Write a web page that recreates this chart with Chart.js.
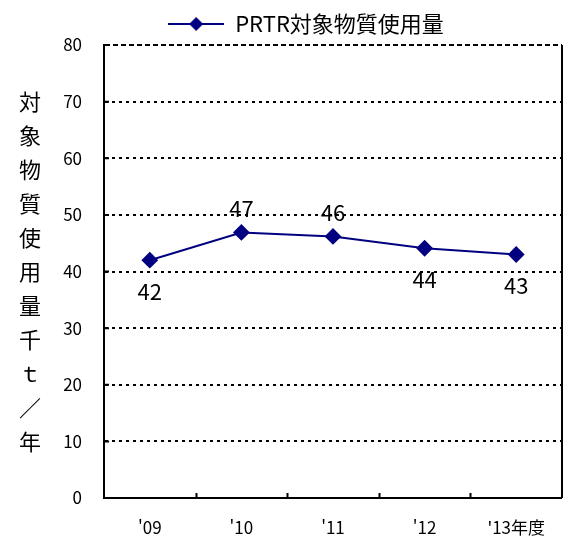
<!DOCTYPE html>
<html lang="ja">
<head>
<meta charset="utf-8">
<script src="https://cdn.jsdelivr.net/npm/chart.js@4.4.0/dist/chart.umd.min.js"></script>
<style>
  html, body { margin: 0; padding: 0; background: #fff; }
  #wrap { width: 565px; height: 539px; position: relative; }
</style>
</head>
<body>
<div id="wrap"><canvas id="chart" width="565" height="539"></canvas></div>
<script>
// data
const years = ["'09", "'10", "'11", "'12", "'13年度"];
const usage = [42.0, 46.9, 46.2, 44.1, 43.0];
const usageLabels = ['42', '47', '46', '44', '43'];
const labelSide = ['below', 'above', 'above', 'below', 'below'];
const yTicks = [0, 10, 20, 30, 40, 50, 60, 70, 80];
const seriesName = 'PRTR対象物質使用量';
const yTitle = ['対', '象', '物', '質', '使', '用', '量', '千', 'ｔ', '／', '年'];

const NAVY = '#000080';
const FONT = '"Noto Sans CJK JP", "Noto Sans", sans-serif';

// legend marker: short line with a diamond in the middle
function legendMarker() {
  const c = document.createElement('canvas');
  c.width = 56; c.height = 16;
  const g = c.getContext('2d');
  g.strokeStyle = NAVY;
  g.lineWidth = 2;
  g.beginPath();
  g.moveTo(0, 8); g.lineTo(56, 8);
  g.stroke();
  g.fillStyle = NAVY;
  g.beginPath();
  g.moveTo(28, 1); g.lineTo(35, 8); g.lineTo(28, 15); g.lineTo(21, 8);
  g.closePath();
  g.fill();
  return c;
}

// frame bits Excel draws: right border, inner tick marks, vertical axis title
const framePlugin = {
  id: 'frame',
  afterDraw(chart) {
    const { ctx, chartArea: a, scales: { x, y } } = chart;
    ctx.save();
    ctx.strokeStyle = '#000';
    ctx.lineWidth = 2;
    ctx.beginPath();
    ctx.moveTo(a.right, a.top);
    ctx.lineTo(a.right, a.bottom);
    ctx.stroke();

    // small ticks pointing inside
    ctx.beginPath();
    for (let i = 1; i < years.length; i++) {
      const px = (x.getPixelForValue(i - 1) + x.getPixelForValue(i)) / 2;
      ctx.moveTo(Math.round(px) + 0.5, a.bottom);
      ctx.lineTo(Math.round(px) + 0.5, a.bottom - 5);
    }
    yTicks.forEach(v => {
      const py = y.getPixelForValue(v);
      ctx.moveTo(a.left, py);
      ctx.lineTo(a.left + 5, py);
    });
    ctx.stroke();

    // stacked vertical title
    ctx.fillStyle = '#000';
    ctx.font = '22px ' + FONT;
    ctx.textAlign = 'center';
    ctx.textBaseline = 'middle';
    const top = 102, step = 34;
    yTitle.forEach((ch, i) => ctx.fillText(ch, 30, top + i * step));

    // value labels
    const meta = chart.getDatasetMeta(0);
    ctx.font = '22px ' + FONT;
    meta.data.forEach((pt, i) => {
      const dy = labelSide[i] === 'above' ? -24 : 31;
      ctx.fillText(usageLabels[i], pt.x, pt.y + dy);
    });
    ctx.restore();
  }
};

new Chart(document.getElementById('chart'), {
  type: 'line',
  data: {
    labels: years,
    datasets: [{
      label: seriesName,
      data: usage,
      borderColor: NAVY,
      backgroundColor: NAVY,
      borderWidth: 2,
      pointStyle: 'rectRot',
      pointRadius: 7,
      pointBackgroundColor: NAVY,
      pointBorderColor: NAVY,
      tension: 0
    }]
  },
  options: {
    responsive: false,
    animation: false,
    layout: { autoPadding: false, padding: { left: 50, right: 3, top: 6, bottom: 0 } },
    plugins: {
      tooltip: { enabled: false },
      legend: {
        position: 'top',
        labels: {
          usePointStyle: true,
          pointStyle: legendMarker(),
          pointStyleWidth: 56,
          color: '#000',
          font: { family: FONT, size: 22 },
          padding: 7
        }
      }
    },
    scales: {
      x: {
        offset: true,
        grid: {
          display: true, drawOnChartArea: false, drawTicks: true,
          tickLength: 16, tickColor: 'rgba(0,0,0,0)', lineWidth: 0
        },
        border: { display: true, color: '#000', width: 2 },
        ticks: { color: '#000', font: { family: FONT, size: 17 }, padding: 3 },
        afterFit(scale) {
          scale.height = 41;
          scale.paddingLeft = 0;
          scale.paddingRight = 0;
        }
      },
      y: {
        min: 0,
        max: 80,
        afterBuildTicks(scale) { scale.ticks = yTicks.map(v => ({ value: v })); },
        grid: { color: '#000', lineWidth: 2, drawTicks: false },
        border: {
          display: true, color: '#000', width: 2,
          dash: ctx => (ctx.tick && ctx.tick.value === 80 ? [5, 3] : [3, 4])
        },
        ticks: { color: '#000', font: { family: FONT, size: 17 }, padding: 22 },
        afterFit(scale) { scale.width = 54; }
      }
    }
  },
  plugins: [framePlugin]
});
</script>
</body>
</html>
